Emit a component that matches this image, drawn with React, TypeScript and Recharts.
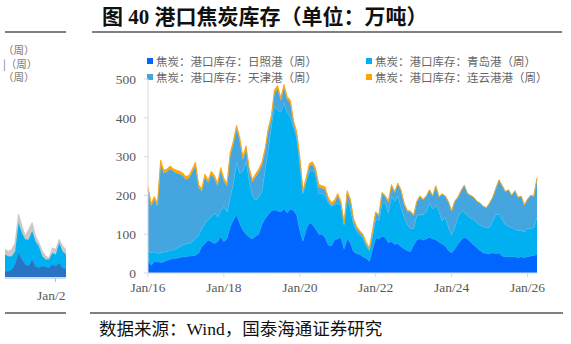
import { AreaChart, Area, XAxis, YAxis } from "recharts";

// 焦炭港口库存，月度取点（万吨），2016-01 起
const RIZHAO = [
  33, 20, 29, 29, 27, 29, 33, 35, 38, 38, 40, 42,
  42, 44, 44, 46, 51, 68, 76, 85, 81, 76, 81, 94,
  81, 89, 119, 137, 150, 128, 110, 100, 92, 88, 95, 100,
  125, 140, 150, 160, 163, 160, 158, 165, 155, 165, 162, 150,
  110, 82, 112, 130, 125, 115, 100, 100, 92, 72, 70, 86,
  88, 92, 62, 88, 78, 55, 50, 48, 42, 38, 30, 60,
  90, 88, 95, 92, 78, 82, 74, 76, 68, 62, 58, 55,
  72, 86, 88, 85, 88, 92, 88, 86, 80, 75, 70, 58,
  52, 62, 75, 85, 92, 88, 80, 72, 65, 58, 52, 50,
  50, 52, 50, 52, 44, 42, 42, 42, 42, 40, 42, 40,
  42, 44, 45, 48,
];
const QINGDAO = [
  26, 32, 26, 22, 25, 26, 22, 24, 21, 26, 28, 30,
  34, 32, 37, 43, 47, 47, 52, 52, 64, 78, 64, 68,
  90, 69, 78, 94, 137, 129, 152, 190, 148, 112, 93, 95,
  85, 125, 170, 220, 267, 260, 257, 275, 257, 238, 215, 200,
  175, 123, 123, 132, 140, 140, 105, 105, 108, 110, 102, 90,
  92, 83, 63, 107, 87, 70, 58, 50, 48, 32, 28, 35,
  50, 47, 85, 90, 77, 118, 111, 124, 102, 83, 67, 60,
  43, 64, 62, 65, 72, 88, 77, 89, 80, 60, 75, 62,
  46, 56, 70, 73, 66, 60, 62, 66, 65, 66, 68, 66,
  68, 83, 100, 100, 94, 83, 78, 76, 70, 70, 68, 66,
  73, 71, 73, 97,
];
const TIANJIN = [
  156, 121, 136, 122, 231, 203, 206, 210, 204, 194, 187, 179,
  165, 169, 180, 189, 123, 96, 120, 96, 110, 91, 80, 103,
  66, 67, 106, 102, 86, 86, 31, 31, 25, 35, 60, 66,
  68, 48, 45, 18, 35, 55, 30, 39, 36, 36, 11, 8,
  8, 3, 3, 13, 15, 8, 16, 14, 15, 6, 3, 5,
  20, 5, 0, 12, 20, 10, 7, 7, 5, 5, 2, 10,
  15, 12, 25, 15, 27, 25, 22, 29, 42, 32, 34, 42,
  33, 33, 48, 38, 38, 33, 33, 48, 36, 68, 53, 63,
  62, 67, 50, 54, 68, 57, 58, 57, 55, 56, 52, 52,
  62, 60, 68, 88, 87, 85, 94, 82, 100, 85, 88, 69,
  75, 85, 80, 99,
];
const LIANYUNGANG = [
  7, 7, 6, 7, 8, 7, 7, 7, 6, 7, 7, 7,
  7, 7, 7, 8, 7, 7, 7, 6, 7, 7, 7, 7,
  7, 7, 8, 8, 8, 7, 7, 7, 6, 7, 7, 7,
  7, 7, 7, 8, 8, 8, 7, 7, 7, 7, 6, 7,
  7, 6, 7, 7, 7, 7, 7, 6, 7, 7, 7, 7,
  5, 5, 4, 5, 5, 5, 5, 4, 5, 5, 4, 5,
  3, 3, 3, 3, 3, 3, 3, 3, 3, 3, 3, 3,
  2, 2, 1, 2, 1, 2, 1, 2, 1, 1, 1, 1,
  0, 0, 0, 0, 0, 0, 0, 0, 0, 0, 0, 0,
  0, 0, 0, 0, 0, 0, 0, 0, 0, 0, 0, 0,
  0, 0, 0, 0,
];
const MONTHS = RIZHAO.map(
  (_, i) => `${2016 + Math.floor(i / 12)}-${String((i % 12) + 1).padStart(2, "0")}`
);
const X_TICKS = ["2016-01", "2018-01", "2020-01", "2022-01", "2024-01", "2026-01"];
const Y_TICKS = [0, 100, 200, 300, 400, 500];

const SERIES = [
  { key: "rz", name: "焦炭：港口库存：日照港（周）", color: "#0066ff", edge: "#3d8bff" },
  { key: "qd", name: "焦炭：港口库存：青岛港（周）", color: "#00b0f0", edge: "#5cc9f2" },
  { key: "tj", name: "焦炭：港口库存：天津港（周）", color: "#45a5de", edge: "#6cb8e4" },
  { key: "lyg", name: "焦炭：港口库存：连云港港（周）", color: "#ffa500", edge: "#ffa500" },
];

const DATA = MONTHS.map((m, i) => ({
  month: m,
  rz: RIZHAO[i],
  qd: QINGDAO[i],
  tj: TIANJIN[i],
  lyg: LIANYUNGANG[i],
}));

// 左侧被裁切的相邻图
const SIDE_DARK = [20, 20, 25, 40, 75, 55, 40, 35, 55, 35, 30, 35, 33, 30, 40, 35, 45, 30, 27];
const SIDE_CYAN = [50, 45, 40, 40, 90, 80, 75, 80, 85, 75, 65, 30, 22, 25, 35, 35, 60, 50, 43];
const SIDE_GRAY = [15, 15, 20, 25, 25, 20, 10, 30, 25, 15, 10, 15, 10, 5, 15, 15, 10, 15, 15];
const SIDE_DATA = SIDE_DARK.map((d, i) => ({ i, a: d, b: SIDE_CYAN[i], c: SIDE_GRAY[i] }));
const SIDE_LEGEND = ["（周）", "|（周）", "（周）"];

const SERIF = '"Liberation Serif", "Noto Sans CJK SC", serif';
const CJK = '"Noto Sans CJK SC", "Liberation Serif", sans-serif';
const GRAY = "#595959";

const abs = (left: number, top: number, extra: any = {}) => ({
  position: "absolute" as const,
  left,
  top,
  ...extra,
});

export default function App() {
  const axisTick = { fill: GRAY, fontSize: 13.5, fontFamily: SERIF };
  return (
    <div style={abs(0, 0, { width: 571, height: 344, background: "#fff", overflow: "hidden" })}>
      {/* 左侧残图 */}
      <div style={abs(5, 31, { width: 61, height: 2, background: "#808080" })} />
      {SIDE_LEGEND.map((t, i) => (
        <div
          key={i}
          style={abs(3, 43 + i * 13.5, {
            fontFamily: CJK,
            fontSize: 10.5,
            lineHeight: "13px",
            color: "#777",
            whiteSpace: "nowrap",
          })}
        >
          {t}
        </div>
      ))}
      <div style={abs(5, 211)}>
        <AreaChart width={61} height={67} data={SIDE_DATA} margin={{ top: 0, right: 0, bottom: 0, left: 0 }}>
          <XAxis dataKey="i" hide />
          <YAxis hide domain={[0, 200]} />
          <Area dataKey="a" stackId="s" type="linear" fill="#2a72c4" stroke="#2a72c4" fillOpacity={1} isAnimationActive={false} />
          <Area dataKey="b" stackId="s" type="linear" fill="#00b0f0" stroke="#00b0f0" fillOpacity={1} isAnimationActive={false} />
          <Area dataKey="c" stackId="s" type="linear" fill="#c8c8c8" stroke="#c8c8c8" fillOpacity={1} isAnimationActive={false} />
        </AreaChart>
      </div>
      <div style={abs(5, 277, { width: 61, height: 1.5, background: "#c9dff0" })} />
      <div style={abs(55, 278, { width: 1, height: 4, background: "#bbb" })} />
      <div style={abs(0, 288, { width: 66, overflow: "hidden", height: 18 })}>
        <div style={abs(37, 0, { fontFamily: SERIF, fontSize: 13.5, lineHeight: "16px", color: GRAY, whiteSpace: "nowrap" })}>
          Jan/2
        </div>
      </div>
      <div style={abs(5, 312, { width: 61, height: 2, background: "#808080" })} />

      {/* 标题 */}
      <div
        style={abs(102, 4, {
          fontFamily: SERIF,
          fontWeight: "bold",
          fontSize: 21,
          lineHeight: "26px",
          color: "#111",
          whiteSpace: "nowrap",
        })}
      >
        图 40 港口焦炭库存（单位：万吨）
      </div>
      <div style={abs(92, 31, { width: 470, height: 2, background: "#808080" })} />

      {/* 图例 */}
      {SERIES.map((s, i) => {
        const col = i === 0 || i === 2 ? 0 : 1;
        const row = i < 2 ? 0 : 1;
        return (
          <div
            key={s.key}
            style={abs(col ? 366 : 147, 53 + row * 16, {
              display: "flex",
              alignItems: "center",
              height: 16,
              whiteSpace: "nowrap",
            })}
          >
            <span style={{ width: 6, height: 6, background: s.color, marginRight: 3, display: "inline-block" }} />
            <span style={{ fontFamily: CJK, fontSize: 11.5, color: "#666" }}>{s.name}</span>
          </div>
        );
      })}

      {/* 主图 */}
      <div style={abs(90, 50)}>
        <AreaChart width={460} height={245} data={DATA} margin={{ top: 29, right: 13, bottom: 0, left: 0 }}>
          <XAxis
            dataKey="month"
            ticks={X_TICKS}
            interval={0}
            tickFormatter={(v: string) => `Jan/${v.slice(2, 4)}`}
            height={22}
            tick={axisTick}
            tickSize={4}
            tickMargin={5}
            axisLine={{ stroke: "#d9d9d9" }}
            tickLine={{ stroke: "#d9d9d9" }}
          />
          <YAxis
            domain={[0, 500]}
            ticks={Y_TICKS}
            width={58}
            tick={axisTick}
            tickSize={4}
            tickMargin={8}
            axisLine={{ stroke: "#d9d9d9" }}
            tickLine={{ stroke: "#d9d9d9" }}
          />
          {SERIES.map((s) => (
            <Area
              key={s.key}
              dataKey={s.key}
              name={s.name}
              stackId="ports"
              type="linear"
              fill={s.color}
              fillOpacity={1}
              stroke={s.edge}
              strokeWidth={0.8}
              isAnimationActive={false}
            />
          ))}
        </AreaChart>
      </div>

      {/* 来源 */}
      <div style={abs(90, 312, { width: 473, height: 2, background: "#808080" })} />
      <div
        style={abs(99, 318, {
          fontFamily: SERIF,
          fontSize: 17.5,
          lineHeight: "22px",
          color: "#111",
          whiteSpace: "nowrap",
        })}
      >
        数据来源：Wind，国泰海通证券研究
      </div>
    </div>
  );
}
